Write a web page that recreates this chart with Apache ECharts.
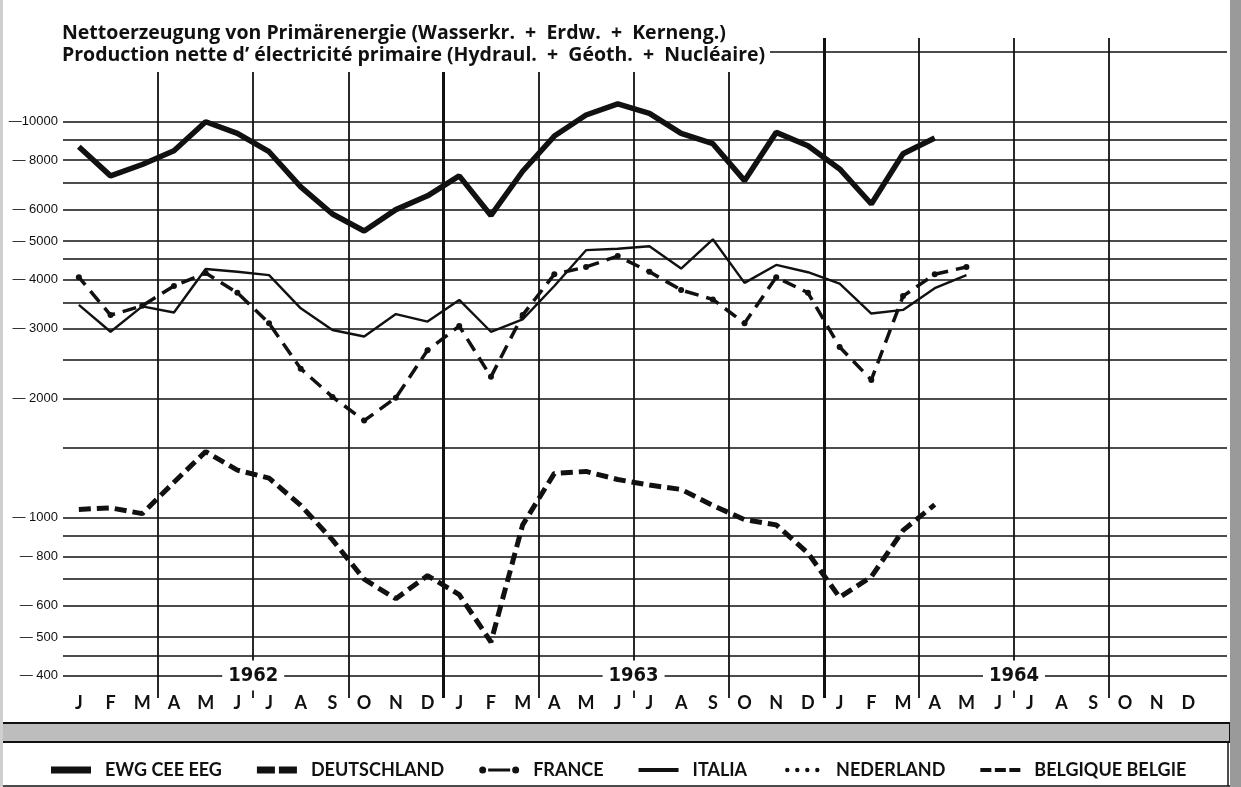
<!DOCTYPE html>
<html>
<head>
<meta charset="utf-8">
<script src="https://cdn.jsdelivr.net/npm/echarts@6/dist/echarts.min.js"></script>
</head>
<body style="margin:0;background:#fff">
<div id="chart" style="width:1241px;height:787px"></div>
<script>
// months Jan 1962 .. Dec 1964
var months = ['J','F','M','A','M','J','J','A','S','O','N','D',
              'J','F','M','A','M','J','J','A','S','O','N','D',
              'J','F','M','A','M','J','J','A','S','O','N','D'];
var years = ['1962', '1963', '1964'];

// GWh per month
var ewg = [8650, 7300, 7800, 8450, 10000, 9350, 8400, 6850, 5850, 5300, 6000, 6500,
           7300, 5800, 7500, 9200, 10400, 11100, 10500, 9350, 8800, 7100, 9400, 8700,
           7600, 6200, 8300, 9100];
var deutschland = [1050, 1060, 1025, 1230, 1470, 1320, 1260, 1075, 880, 700, 625, 715,
                   640, 486, 960, 1295, 1310, 1250, 1210, 1180, 1075, 990, 960, 815,
                   630, 710, 930, 1080];
var france = [4050, 3250, 3430, 3850, 4150, 3700, 3100, 2380, 2020, 1760, 2010, 2650,
              3050, 2270, 3250, 4120, 4300, 4580, 4180, 3760, 3560, 3100, 4050, 3700,
              2700, 2230, 3630, 4120, 4300];
var italia = [3450, 2950, 3420, 3300, 4250, 4180, 4100, 3380, 2980, 2870, 3270, 3130,
              3550, 2950, 3170, 3850, 4740, 4780, 4850, 4260, 5050, 3920, 4350, 4170,
              3900, 3280, 3350, 3800, 4100];
var nederland = [];
var belgique = [];

// horizontal rulings and the values that carry a label
var gridValues = [15000, 10000, 9000, 8000, 7000, 6000, 5000, 4500, 4000, 3500, 3000,
                  2500, 2000, 1500, 1000, 900, 800, 700, 600, 500, 450, 400];
var tickLabels = [10000, 8000, 6000, 5000, 4000, 3000, 2000, 1000, 800, 600, 500, 400];
// vertical rulings (month boundaries, every quarter)
var quarterLines = [3, 6, 9, 12, 15, 18, 21, 24, 27, 30, 33];

function pts(arr) {
    return arr.map(function (v, i) { return [i + 0.5, v]; });
}

var ink = '#111';
var chart = echarts.init(document.getElementById('chart'));

var rules = [];
gridValues.forEach(function (v) {
    var lab = tickLabels.indexOf(v) >= 0;
    rules.push({
        yAxis: v,
        label: lab ? {
            show: true, position: 'start', distance: 5,
            formatter: (v >= 10000 ? '\u2014' : '\u2014 ') + v,
            color: ink, fontSize: 13, fontFamily: 'Liberation Sans'
        } : {show: false}
    });
});
quarterLines.forEach(function (q) {
    rules.push({xAxis: q, lineStyle: {width: q % 12 === 0 ? 3 : 1.8}});
});

// legend keys drawn as small paths in a 40x7 box (corner specks keep the box size)
var box = 'M0 0h0.01v0.01h-0.01Z M39.99 6.99h0.01v0.01h-0.01Z ';
var icons = {
    ewg: 'path://M0 0H40V7H0Z',
    de: 'path://M0 0H18V7H0Z M22 0H40V7H22Z',
    fr: 'path://M0 3.5A3.5 3.5 0 1 0 7 3.5A3.5 3.5 0 1 0 0 3.5Z M9 2H31V5H9Z M33 3.5A3.5 3.5 0 1 0 40 3.5A3.5 3.5 0 1 0 33 3.5Z',
    it: 'path://' + box + 'M0 1.5H40V5.5H0Z',
    nl: 'path://' + box + 'M3 3.5A2.2 2.2 0 1 0 7.4 3.5A2.2 2.2 0 1 0 3 3.5Z M13 3.5A2.2 2.2 0 1 0 17.4 3.5A2.2 2.2 0 1 0 13 3.5Z M23 3.5A2.2 2.2 0 1 0 27.4 3.5A2.2 2.2 0 1 0 23 3.5Z M33 3.5A2.2 2.2 0 1 0 37.4 3.5A2.2 2.2 0 1 0 33 3.5Z',
    be: 'path://' + box + 'M0 1.5H11V5.5H0Z M14.5 1.5H25.5V5.5H14.5Z M29 1.5H40V5.5H29Z'
};

chart.setOption({
    animation: false,
    backgroundColor: '#fff',
    grid: {left: 63, right: 14, top: 38, bottom: 89},
    xAxis: {
        type: 'value', min: 0, max: 36.72, interval: 0.5,
        axisLine: {show: false}, axisTick: {show: false}, splitLine: {show: false},
        axisLabel: {
            margin: -4, color: ink, fontSize: 18, fontWeight: 'bold', fontFamily: 'Lato',
            formatter: function (v) {
                var k = v - 0.5;
                var r = Math.round(k);
                if (Math.abs(k - r) < 1e-6 && r >= 0 && r < months.length) return months[r];
                return '';
            }
        }
    },
    yAxis: {
        type: 'log', min: 351, max: 16270,
        axisLine: {show: false}, axisTick: {show: false},
        axisLabel: {show: false}, splitLine: {show: false}
    },
    legend: {
        left: 51, top: 761, padding: 0, itemGap: 35, itemWidth: 40, itemHeight: 7,
        itemStyle: {color: ink, borderWidth: 0},
        textStyle: {fontFamily: 'Lato', fontWeight: 'bold', fontSize: 18, color: ink,
                    padding: [0, 0, 0, 9]},
        data: [
            {name: 'EWG CEE EEG', icon: icons.ewg},
            {name: 'DEUTSCHLAND', icon: icons.de},
            {name: 'FRANCE', icon: icons.fr},
            {name: 'ITALIA', icon: icons.it},
            {name: 'NEDERLAND', icon: icons.nl},
            {name: 'BELGIQUE BELGIE', icon: icons.be}
        ]
    },
    series: [
        {
            name: 'rules', type: 'line', data: [], silent: true,
            markLine: {
                symbol: 'none', silent: true, z: 1, animation: false,
                label: {show: false},
                lineStyle: {color: ink, width: 1.6, type: 'solid'},
                data: rules
            },
            markPoint: {
                silent: true, symbol: 'rect', symbolSize: [62, 30],
                itemStyle: {color: '#fff'},
                label: {show: true, position: 'inside', color: ink, fontSize: 20,
                        fontWeight: 'bold', fontFamily: 'Liberation Sans Narrow, DejaVu Sans Condensed'},
                data: years.map(function (y, i) {
                    return {coord: [6 + 12 * i, 400], value: y};
                })
            }
        },
        {
            name: 'EWG CEE EEG', type: 'line', z: 4, symbol: 'none',
            lineStyle: {color: ink, width: 5.5},
            itemStyle: {color: ink},
            data: pts(ewg)
        },
        {
            name: 'DEUTSCHLAND', type: 'line', z: 4, symbol: 'none',
            lineStyle: {color: ink, width: 5, type: [12, 6]},
            itemStyle: {color: ink},
            data: pts(deutschland)
        },
        {
            name: 'FRANCE', type: 'line', z: 4, symbol: 'circle', symbolSize: 6,
            lineStyle: {color: ink, width: 3.5, type: [14, 8], dashOffset: 4},
            itemStyle: {color: ink},
            data: pts(france)
        },
        {
            name: 'ITALIA', type: 'line', z: 3, symbol: 'none',
            lineStyle: {color: ink, width: 2.4},
            itemStyle: {color: ink},
            data: pts(italia)
        },
        {
            name: 'NEDERLAND', type: 'line', symbol: 'none',
            lineStyle: {color: ink, width: 4, type: [4, 6]},
            itemStyle: {color: ink},
            data: pts(nederland)
        },
        {
            name: 'BELGIQUE BELGIE', type: 'line', symbol: 'none',
            lineStyle: {color: ink, width: 4, type: [9, 4]},
            itemStyle: {color: ink},
            data: pts(belgique)
        }
    ],
    graphic: [
        {type: 'rect', z: 100, shape: {x: 0, y: 0, width: 770, height: 72}, style: {fill: '#fff'}},
        {type: 'text', z: 101, x: 62, y: 33, style: {
            text: 'Nettoerzeugung von Primärenergie (Wasserkr.  +  Erdw.  +  Kerneng.)',
            fill: ink, font: 'bold 19.5px "Open Sans"', verticalAlign: 'middle'}},
        {type: 'text', z: 101, x: 62, y: 55, style: {
            text: 'Production nette d\u2019 électricité primaire (Hydraul.  +  Géoth.  +  Nucléaire)',
            fill: ink, font: 'bold 19.5px "Open Sans"', verticalAlign: 'middle'}},
        {type: 'rect', z: 100, shape: {x: 0, y: 723, width: 1230, height: 19}, style: {fill: '#bdbdbd', stroke: ink, lineWidth: 2}},
        {type: 'line', z: 100, shape: {x1: 0, y1: 786, x2: 1230, y2: 786}, style: {stroke: ink, lineWidth: 1.5}},
        {type: 'line', z: 100, shape: {x1: 1228, y1: 742, x2: 1228, y2: 786}, style: {stroke: ink, lineWidth: 1.5}},
        {type: 'rect', z: 100, shape: {x: 1230, y: 0, width: 11, height: 787}, style: {fill: '#9a9a9a'}},
        {type: 'rect', z: 100, shape: {x: 0, y: 0, width: 3, height: 787}, style: {fill: '#cfcfcf'}}
    ]
});
</script>
</body>
</html>
